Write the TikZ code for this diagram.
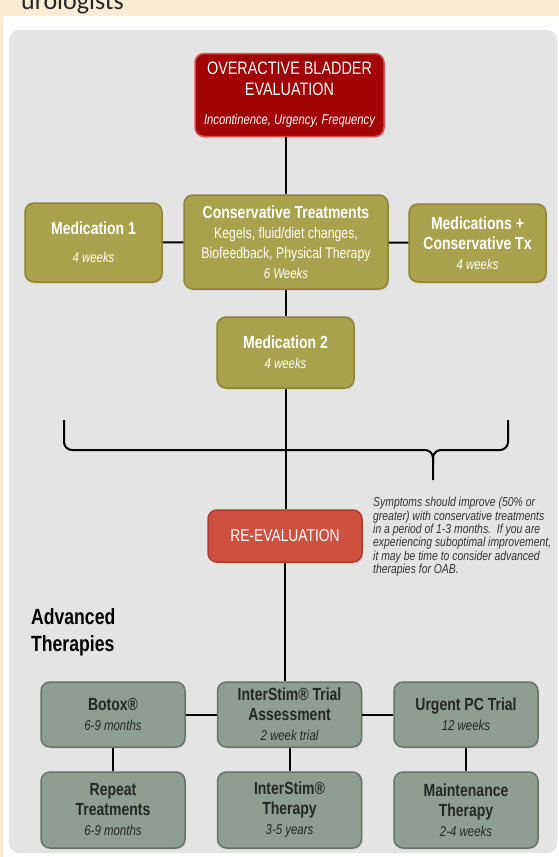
\documentclass[tikz,border=0pt]{standalone}
\usepackage{fontspec}
\setmainfont{Liberation Sans}[FakeStretch=0.8]
\newfontfamily\slidefont{Carlito}
\usetikzlibrary{shadows}

\definecolor{slidebg}{RGB}{252,236,212}
\definecolor{panel}{RGB}{228,228,228}
\definecolor{darkred}{RGB}{162,4,4}
\definecolor{redrim}{RGB}{214,84,84}
\definecolor{tomato}{RGB}{206,80,62}
\definecolor{tomatorim}{RGB}{176,58,44}
\definecolor{olive}{RGB}{170,161,76}
\definecolor{oliverim}{RGB}{140,132,56}
\definecolor{sage}{RGB}{143,158,146}
\definecolor{sagerim}{RGB}{104,116,106}

\newcommand{\subline}{\fontsize{14.3}{17}\selectfont\mdseries\itshape}
\newcommand{\bodyline}{\fontsize{15.4}{18}\selectfont\mdseries}

\begin{document}
\begin{tikzpicture}[
  x=1pt, y=-1pt,
  box/.style={rectangle, rounded corners=9pt, line width=1.5pt, align=center, inner sep=2pt,
    drop shadow={opacity=0.2, shadow xshift=1pt, shadow yshift=-1.5pt}},
  redbox/.style={box, draw=redrim, fill=darkred, text=white, font=\fontsize{18}{21}\selectfont},
  alertbox/.style={box, draw=tomatorim, fill=tomato, text=white, font=\fontsize{17.3}{20}\selectfont},
  olivebox/.style={box, draw=oliverim, fill=olive, text=white, font=\fontsize{17.5}{20}\selectfont\bfseries},
  sagebox/.style={box, draw=sagerim, fill=sage, text=black!85, font=\fontsize{17.5}{20}\selectfont\bfseries,
    minimum width=144pt},
  link/.style={line width=2pt},
  brace/.style={line width=2pt, rounded corners=8pt}
]
\useasboundingbox (0,0) rectangle (559,857);
\fill[slidebg] (0,0) rectangle (559,857);
\node[anchor=base west, inner sep=0pt, font=\slidefont\fontsize{26}{30}\selectfont, text=black!85]
  (slidetitle) at (21,9) {urologists};
\fill[white] (3,16) rectangle (559,857);
\fill[panel, rounded corners=10pt] (9,30) rectangle (557,853);

% top of the chart
\node[redbox, minimum width=189pt, minimum height=83pt] (eval) at (289.5,95)
  {OVERACTIVE BLADDER\\EVALUATION\\[8pt]\fontsize{14.1}{16}\selectfont\itshape Incontinence, Urgency, Frequency};
\node[olivebox, minimum width=204pt, minimum height=94pt] (cons) at (286,242)
  {Conservative Treatments\\\bodyline Kegels, fluid/diet changes,\\\bodyline Biofeedback, Physical Therapy\\\subline 6 Weeks};
\node[olivebox, minimum width=137pt, minimum height=79pt] (med1) at (93.5,242.5)
  {Medication 1\\[8pt]\subline 4 weeks};
\node[olivebox, minimum width=137pt, minimum height=78pt] (medcons) at (477.5,243)
  {Medications +\\Conservative Tx\\\subline 4 weeks};
\node[olivebox, minimum width=137pt, minimum height=71pt] (med2) at (285.5,352.5)
  {Medication 2\\\subline 4 weeks};

\draw[link] (cons.north) -- (cons.north |- eval.south);
\draw[link] (med1) -- (cons);
\draw[link] (cons) -- (medcons);
\draw[link] (cons.south) -- (cons.south |- med2.north);

% bracket
\draw[brace] (64,420) -- (64,450) -- (433,450) -- (433,480);
\draw[brace] (433,464) -- (433,450) -- (508,450) -- (508,420);

\node[alertbox, minimum width=154pt, minimum height=52pt] (reeval) at (285,536) {RE-EVALUATION};
\node[anchor=north west, align=left, inner sep=0pt, text=black!80,
  font=\fontsize{13}{13.4}\selectfont\itshape] (note) at (373,497)
  {Symptoms should improve (50\% or\\
   greater) with conservative treatments\\
   in a period of 1-3 months.\ \ If you are\\
   experiencing suboptimal improvement,\\
   it may be time to consider advanced\\
   therapies for OAB.};
\draw[link] (med2.south) -- (med2.south |- reeval.north);

% advanced therapies
\node[anchor=north west, align=left, inner sep=0pt, font=\fontsize{22}{27}\selectfont\bfseries]
  (advanced) at (31,608) {Advanced\\Therapies};

\node[sagebox, minimum height=65pt] (botox) at (113,714.5) {Botox®\\\subline 6-9 months};
\node[sagebox, minimum height=65pt] (trial) at (289.5,714.5) {InterStim® Trial\\Assessment\\\subline 2 week trial};
\node[sagebox, minimum height=65pt] (urgent) at (466,714.5) {Urgent PC Trial\\\subline 12 weeks};
\node[sagebox, minimum height=76pt] (repeat) at (113,810) {Repeat\\Treatments\\\subline 6-9 months};
\node[sagebox, minimum height=76pt] (therapy) at (289.5,810) {InterStim®\\Therapy\\\subline 3-5 years};
\node[sagebox, minimum height=76pt] (maint) at (466,810) {Maintenance\\Therapy\\\subline 2-4 weeks};

\draw[link] (reeval.south) -- (reeval.south |- trial.north);
\draw[link] (botox) -- (trial);
\draw[link] (trial) -- (urgent);
\draw[link] (botox) -- (repeat);
\draw[link] (trial) -- (therapy);
\draw[link] (urgent) -- (maint);
\end{tikzpicture}
\end{document}
